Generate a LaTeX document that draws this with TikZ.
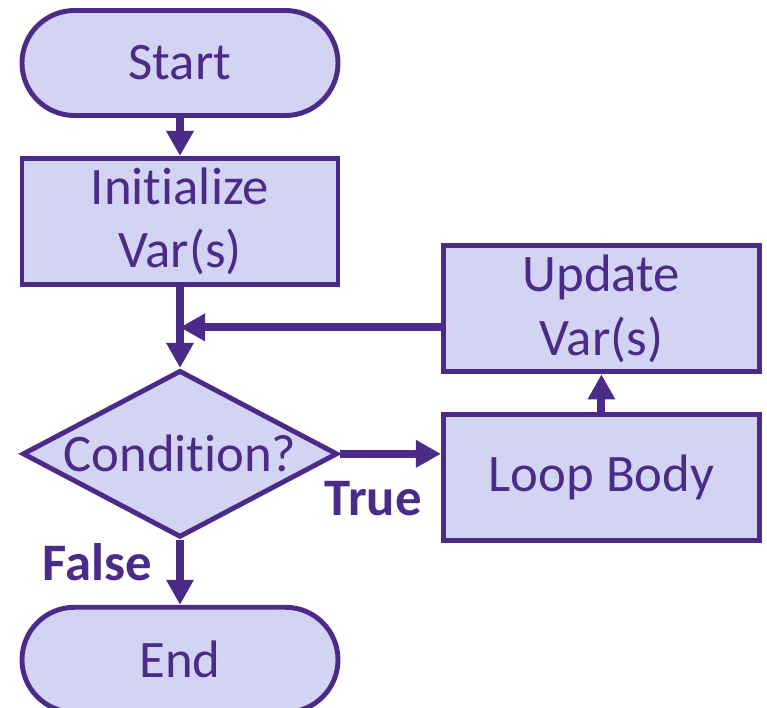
\documentclass[tikz,border=0pt]{standalone}
\usepackage{fontspec}
\setsansfont{Carlito}[RawFeature={-liga;-clig;-calt}]
\usepackage{tikz}
\usetikzlibrary{shapes.geometric, arrows.meta, positioning, calc}
\definecolor{flowline}{HTML}{4B2A88}
\definecolor{flowfill}{HTML}{D3D3F3}
\tikzset{
  block/.style={
    rectangle, minimum width=6.32cm, minimum height=2.52cm,
    text centered, align=center, draw=flowline, fill=flowfill, line width=2.8pt,
    text=flowline, font={\sffamily\fontsize{30}{36}\selectfont}
  },
  terminal/.style={block, minimum height=2.1cm, rounded corners=1.05cm},
  decision/.style={
    block, diamond, aspect=1.9, minimum width=6.3cm, minimum height=3.34cm, inner sep=0pt
  },
  arrow/.style={-{Triangle[length=0.5cm, width=0.52cm]}, line width=4.5pt, color=flowline},
  branch/.style={font={\sffamily\bfseries\fontsize{30}{36}\selectfont}, text=flowline}
}

\begin{document}
\begin{tikzpicture}[node distance=0.76cm and 2.02cm]
  \useasboundingbox (-3.6,1.26) rectangle (11.74,-12.88);
  \node[terminal] (start) {Start};
  \node[block, below=of start] (init) {Initialize\\Var(s)};
  \node[decision, below=1.62cm of init] (cond) {\makebox[3.6cm]{Condition?}};
  \node[terminal, below=1.3cm of cond] (stop) {End};
  \node[block, right=of cond, yshift=-0.48cm] (body) {Loop Body};
  \node[block, above=of body] (upd) {Update\\Var(s)};

  % loop back join
  \coordinate (join) at ($(init.south)!0.5!(cond.north)$);

  \draw[arrow] (start) -- (init);
  \draw[arrow] (init) -- (cond);
  \draw[arrow] (upd.west |- join) -- (join);
  \draw[arrow] (cond.east) -- (cond.east -| body.west)
    node[pos=0.33, below, branch, yshift=-0.36cm]{True};
  \draw[arrow] (body) -- (upd);
  \draw[arrow] (cond) -- (stop)
    node[midway, left, branch, xshift=-0.36cm, yshift=0.2cm]{False};
\end{tikzpicture}
\end{document}
